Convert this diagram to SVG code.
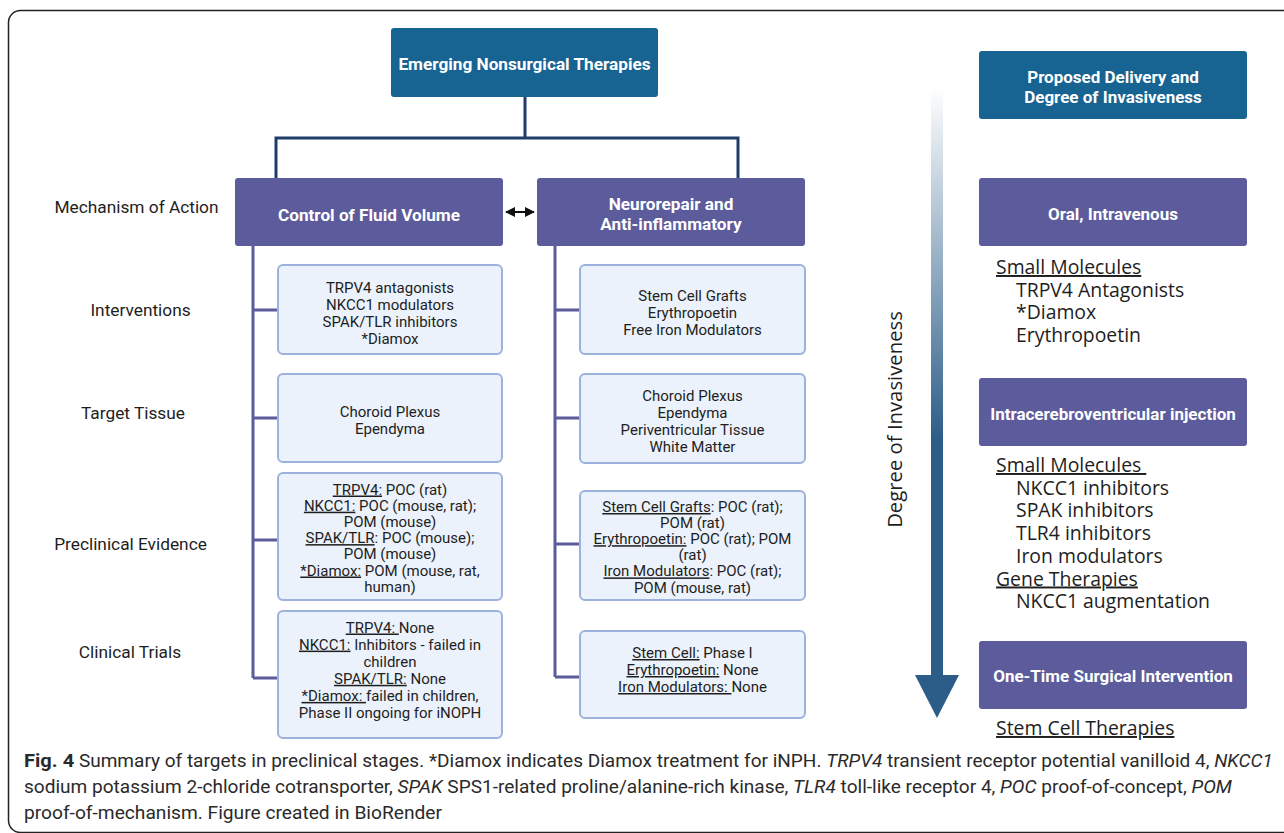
<svg xmlns="http://www.w3.org/2000/svg" width="1284" height="833" viewBox="0 0 1284 833">
<defs>
<style>
.hdr{fill:#176392}
.pur{fill:#5c5b9c}
.lbox{fill:#ebf2fb;stroke:#9cb2dc;stroke-width:2}
.wt{fill:#ffffff;font-family:Roboto,"Liberation Sans",sans-serif;font-weight:bold;font-size:17.2px;text-anchor:middle}
.wt2{fill:#ffffff;font-family:Roboto,"Liberation Sans",sans-serif;font-weight:bold;font-size:17px;text-anchor:middle}
.bt{fill:#1e1e1e;font-family:Roboto,"Liberation Sans",sans-serif;font-size:15px;text-anchor:middle}
.lab{fill:#1e1e1e;font-family:Roboto,"Liberation Sans",sans-serif;font-size:17.3px;text-anchor:middle}
.lst{fill:#1e1e1e;font-family:"Open Sans","Liberation Sans",sans-serif;font-size:19.4px}
.u{text-decoration:underline}
.cap{fill:#2a2a2a;font-family:Roboto,"Liberation Sans",sans-serif;font-size:18px}
.navy{stroke:#1f3c6a;stroke-width:3;fill:none}
.spine{stroke:#5c5b9c;stroke-width:3;fill:none}
</style>
<linearGradient id="ag" gradientUnits="userSpaceOnUse" x1="0" y1="87" x2="0" y2="440">
<stop offset="0" stop-color="#2c5d88" stop-opacity="0"/>
<stop offset="1" stop-color="#2c5d88"/>
</linearGradient>
<marker id="ah" viewBox="0 0 10 10" refX="9" refY="5" markerWidth="5" markerHeight="5" orient="auto-start-reverse">
<path d="M0,0 L10,5 L0,10 z" fill="#111"/>
</marker>
</defs>
<rect x="0" y="0" width="1284" height="833" fill="#ffffff"/>
<rect x="8.5" y="10.5" width="1320" height="822" rx="12" fill="none" stroke="#222" stroke-width="1.5"/>

<g id="connectors">
<path class="navy" d="M525,97 V138 M276,178 V138 H738 V178"/>
<path class="spine" d="M253,246 V678 M253,310 H279 M253,418 H279 M253,540 H279 M253,678 H279"/>
<path class="spine" d="M555,246 V677 M555,310 H581 M555,418 H581 M555,544 H581 M555,677 H581"/>
<line x1="506" y1="212" x2="534" y2="212" stroke="#111" stroke-width="2" marker-start="url(#ah)" marker-end="url(#ah)"/>
</g>

<g id="n-top">
<rect class="hdr" x="391" y="28" width="267" height="69" rx="3"/>
<text class="wt" x="524.5" y="70">Emerging Nonsurgical Therapies</text>
</g>
<g id="n-fluid">
<rect class="pur" x="235" y="178" width="268" height="68" rx="3"/>
<text class="wt" x="369" y="221">Control of Fluid Volume</text>
</g>
<g id="n-neuro">
<rect class="pur" x="537" y="178" width="268" height="68" rx="3"/>
<text class="wt" x="671" y="210">Neurorepair and<tspan x="671" dy="19.5">Anti-inflammatory</tspan></text>
</g>

<g id="labels">
<text class="lab" x="136.5" y="213">Mechanism of Action</text>
<text class="lab" x="140.5" y="316">Interventions</text>
<text class="lab" x="133" y="419">Target Tissue</text>
<text class="lab" x="130.5" y="550">Preclinical Evidence</text>
<text class="lab" x="130" y="658">Clinical Trials</text>
</g>

<g id="n-l-int">
<rect class="lbox" x="278" y="265" width="224" height="89" rx="5"/>
<text class="bt" x="390" y="293">TRPV4 antagonists<tspan x="390" dy="17">NKCC1 modulators</tspan><tspan x="390" dy="17">SPAK/TLR inhibitors</tspan><tspan x="390" dy="17">*Diamox</tspan></text>
</g>
<g id="n-l-tis">
<rect class="lbox" x="278" y="374" width="224" height="88" rx="5"/>
<text class="bt" x="390" y="417">Choroid Plexus<tspan x="390" dy="17">Ependyma</tspan></text>
</g>
<g id="n-l-pre">
<rect class="lbox" x="278" y="473" width="224" height="127" rx="5"/>
<text class="bt" x="390" y="494.5"><tspan class="u">TRPV4:</tspan> POC (rat)<tspan x="390" dy="16.2"><tspan class="u">NKCC1:</tspan> POC (mouse, rat);</tspan><tspan x="390" dy="16.2">POM (mouse)</tspan><tspan x="390" dy="16.2"><tspan class="u">SPAK/TLR</tspan>: POC (mouse);</tspan><tspan x="390" dy="16.2">POM (mouse)</tspan><tspan x="390" dy="16.2"><tspan class="u">*Diamox:</tspan> POM (mouse, rat,</tspan><tspan x="390" dy="16.2">human)</tspan></text>
</g>
<g id="n-l-cli">
<rect class="lbox" x="278" y="611" width="224" height="127" rx="5"/>
<text class="bt" x="390" y="632.5"><tspan class="u">TRPV4: </tspan>None<tspan x="390" dy="17.1"><tspan class="u">NKCC1:</tspan> Inhibitors - failed in</tspan><tspan x="390" dy="17.1">children</tspan><tspan x="390" dy="17.1"><tspan class="u">SPAK/TLR:</tspan> None</tspan><tspan x="390" dy="17.1"><tspan class="u">*Diamox: </tspan>failed in children,</tspan><tspan x="390" dy="17.1">Phase II ongoing for iNOPH</tspan></text>
</g>

<g id="n-r-int">
<rect class="lbox" x="580" y="265" width="225" height="89" rx="5"/>
<text class="bt" x="692.5" y="301">Stem Cell Grafts<tspan x="692.5" dy="17">Erythropoetin</tspan><tspan x="692.5" dy="17">Free Iron Modulators</tspan></text>
</g>
<g id="n-r-tis">
<rect class="lbox" x="580" y="374" width="225" height="89" rx="5"/>
<text class="bt" x="692.5" y="401">Choroid Plexus<tspan x="692.5" dy="17">Ependyma</tspan><tspan x="692.5" dy="17">Periventricular Tissue</tspan><tspan x="692.5" dy="17">White Matter</tspan></text>
</g>
<g id="n-r-pre">
<rect class="lbox" x="580" y="491" width="225" height="109" rx="5"/>
<text class="bt" x="692.5" y="512"><tspan class="u">Stem Cell Grafts</tspan>: POC (rat);<tspan x="692.5" dy="16.1">POM (rat)</tspan><tspan x="692.5" dy="16.1"><tspan class="u">Erythropoetin:</tspan> POC (rat); POM</tspan><tspan x="692.5" dy="16.1">(rat)</tspan><tspan x="692.5" dy="16.1"><tspan class="u">Iron Modulators</tspan>: POC (rat);</tspan><tspan x="692.5" dy="16.1">POM (mouse, rat)</tspan></text>
</g>
<g id="n-r-cli">
<rect class="lbox" x="580" y="631" width="225" height="87" rx="5"/>
<text class="bt" x="692.5" y="658"><tspan class="u">Stem Cell:</tspan> Phase I<tspan x="692.5" dy="17"><tspan class="u">Erythropoetin:</tspan> None</tspan><tspan x="692.5" dy="17"><tspan class="u">Iron Modulators: </tspan>None</tspan></text>
</g>

<g id="invasiveness-arrow">
<rect x="931" y="87" width="12" height="589" fill="url(#ag)"/>
<polygon points="915,675 959,675 937,718" fill="#2c5d88"/>
<text fill="#1e1e1e" font-family="'Open Sans','Liberation Sans',sans-serif" font-size="20.3px" text-anchor="middle" transform="translate(902,419.5) rotate(-90)">Degree of Invasiveness</text>
</g>

<g id="n-delivery">
<rect class="hdr" x="979" y="51" width="268" height="68" rx="3"/>
<text class="wt2" x="1113" y="83">Proposed Delivery and<tspan x="1113" dy="20">Degree of Invasiveness</tspan></text>
</g>
<g id="n-oral">
<rect class="pur" x="979" y="178" width="268" height="68" rx="3"/>
<text class="wt2" x="1113" y="220">Oral, Intravenous</text>
<text class="lst" x="996" y="274"><tspan class="u">Small Molecules</tspan><tspan x="1016" dy="22.5">TRPV4 Antagonists</tspan><tspan x="1016" dy="22.5">*Diamox</tspan><tspan x="1016" dy="22.5">Erythropoetin</tspan></text>
</g>
<g id="n-icv">
<rect class="pur" x="979" y="378" width="268" height="68" rx="3"/>
<text class="wt2" x="1113" y="420">Intracerebroventricular injection</text>
<text class="lst" x="996" y="472" xml:space="preserve"><tspan class="u">Small Molecules </tspan><tspan x="1016" dy="22.7">NKCC1 inhibitors</tspan><tspan x="1016" dy="22.7">SPAK inhibitors</tspan><tspan x="1016" dy="22.7">TLR4 inhibitors</tspan><tspan x="1016" dy="22.7">Iron modulators</tspan><tspan x="996" dy="22.7" class="u">Gene Therapies</tspan><tspan x="1016" dy="22.7">NKCC1 augmentation</tspan></text>
</g>
<g id="n-surg">
<rect class="pur" x="979" y="641" width="268" height="68" rx="3"/>
<text class="wt2" x="1113" y="682">One-Time Surgical Intervention</text>
<text class="lst" x="996" y="735"><tspan class="u">Stem Cell Therapies</tspan></text>
</g>

<g id="caption">
<text class="cap" x="24" y="767" textLength="1249" lengthAdjust="spacingAndGlyphs"><tspan font-weight="bold" font-size="19px">Fig. 4</tspan>  Summary of targets in preclinical stages. *Diamox indicates Diamox treatment for iNPH. <tspan font-style="italic">TRPV4</tspan> transient receptor potential vanilloid 4, <tspan font-style="italic">NKCC1</tspan></text>
<text class="cap" x="24" y="793" textLength="1208" lengthAdjust="spacingAndGlyphs">sodium potassium 2-chloride cotransporter, <tspan font-style="italic">SPAK</tspan> SPS1-related proline/alanine-rich kinase, <tspan font-style="italic">TLR4</tspan> toll-like receptor 4, <tspan font-style="italic">POC</tspan> proof-of-concept, <tspan font-style="italic">POM</tspan></text>
<text class="cap" x="24" y="819" textLength="418" lengthAdjust="spacingAndGlyphs">proof-of-mechanism. Figure created in BioRender</text>
</g>
</svg>
